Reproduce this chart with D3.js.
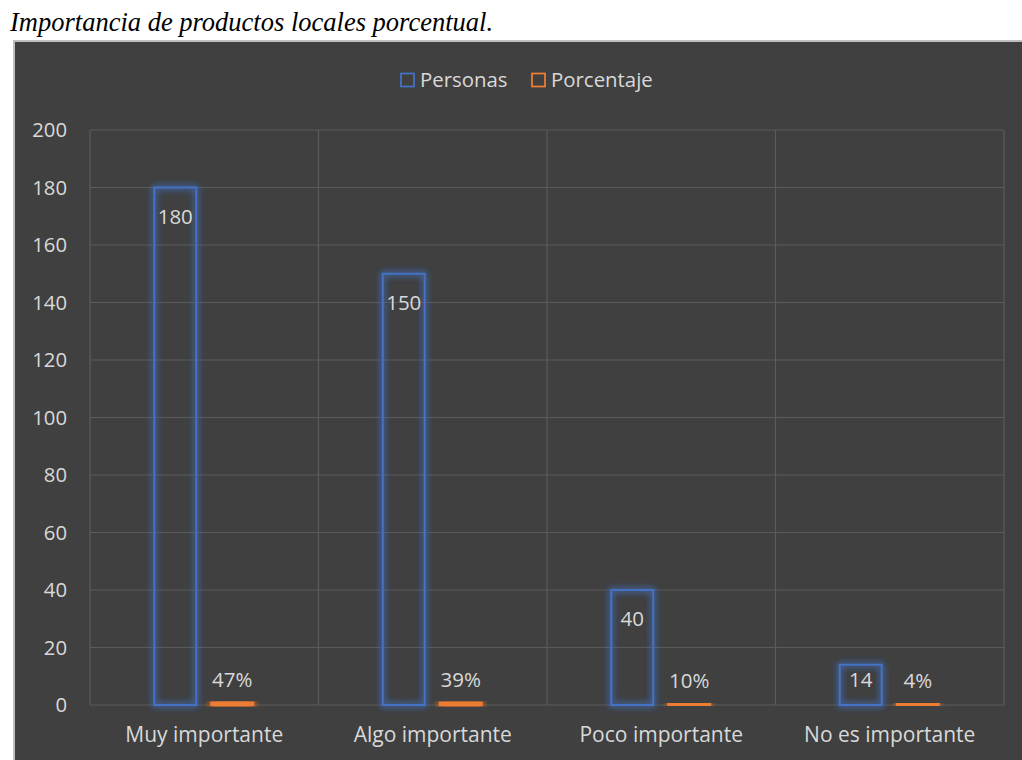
<!DOCTYPE html>
<html>
<head>
<meta charset="utf-8">
<script src="https://cdn.jsdelivr.net/npm/d3@7"></script>
<style>
  html, body { margin: 0; padding: 0; background: #ffffff; }
  svg { display: block; }
</style>
</head>
<body>
<svg id="chart" width="1022" height="760"></svg>
<script>
// Survey: importance of local products
const categories = ["Muy importante", "Algo importante", "Poco importante", "No es importante"];
const personas = [180, 150, 40, 14];
const porcentaje = [0.47, 0.39, 0.10, 0.04];
const porcentajeLabels = ["47%", "39%", "10%", "4%"];
const yTicks = [0, 20, 40, 60, 80, 100, 120, 140, 160, 180, 200];
const seriesNames = ["Personas", "Porcentaje"];
const seriesColors = ["#4472c4", "#ed7d31"];

const svg = d3.select("#chart");
const font = "'Open Sans', 'Noto Sans', sans-serif";
const textColor = "#d9d9d9";

// Caption above the chart
svg.append("text")
  .attr("x", 10).attr("y", 31)
  .attr("font-family", "'Liberation Serif', 'Times New Roman', serif")
  .attr("font-style", "italic")
  .attr("font-size", 26.5)
  .attr("fill", "#000")
  .text("Importancia de productos locales porcentual.");

// Chart frame
svg.append("rect")
  .attr("x", 14).attr("y", 41).attr("width", 1022 - 14).attr("height", 760 - 41)
  .attr("fill", "#404040");
svg.append("path")
  .attr("d", "M14,760 V41 H1022")
  .attr("fill", "none").attr("stroke", "#bfbfbf").attr("stroke-width", 2);

// Glow filters
const defs = svg.append("defs");
seriesColors.forEach((c, i) => {
  const f = defs.append("filter").attr("id", "glow" + i)
    .attr("x", "-50%").attr("y", "-50%").attr("width", "200%").attr("height", "200%");
  f.append("feGaussianBlur").attr("in", "SourceGraphic").attr("stdDeviation", 3.5).attr("result", "b");
  const m = f.append("feMerge");
  m.append("feMergeNode").attr("in", "b");
  m.append("feMergeNode").attr("in", "b");
  m.append("feMergeNode").attr("in", "SourceGraphic");
});

const plotLeft = 90, plotRight = 1004, plotTop = 130, plotBottom = 705;

const x = d3.scaleBand().domain(categories).range([plotLeft, plotRight]).padding(0);
const y = d3.scaleLinear().domain([0, 200]).range([plotBottom, plotTop]);

// Horizontal gridlines
svg.append("g").selectAll("line").data(yTicks).join("line")
  .attr("x1", plotLeft).attr("x2", plotRight)
  .attr("y1", d => y(d)).attr("y2", d => y(d))
  .attr("stroke", "#5b5b5b").attr("stroke-width", 1.2);

// Vertical gridlines at category boundaries
const bounds = categories.map(c => x(c)).concat([plotRight]);
svg.append("g").selectAll("line").data(bounds).join("line")
  .attr("x1", d => d).attr("x2", d => d)
  .attr("y1", plotTop).attr("y2", plotBottom)
  .attr("stroke", "#5b5b5b").attr("stroke-width", 1.2);

// Y axis labels
const yAxis = svg.append("g")
  .attr("transform", `translate(${plotLeft - 23},0)`)
  .call(d3.axisLeft(y).tickValues(yTicks).tickSize(0).tickPadding(0));
yAxis.select(".domain").remove();
yAxis.selectAll("text")
  .attr("font-family", font).attr("font-size", 20.3).attr("fill", textColor);

// X axis labels
const xAxis = svg.append("g")
  .attr("transform", `translate(0,${plotBottom})`)
  .call(d3.axisBottom(x).tickSize(0).tickPadding(22));
xAxis.select(".domain").remove();
xAxis.selectAll("text")
  .attr("font-family", font).attr("font-size", 21).attr("fill", textColor);

const barW = 42;
const offsets = [-29, 28];

// Personas bars
svg.append("g").selectAll("rect").data(personas).join("rect")
  .attr("x", (d, i) => x(categories[i]) + x.bandwidth() / 2 + offsets[0] - barW / 2)
  .attr("y", d => y(d))
  .attr("width", barW)
  .attr("height", d => y(0) - y(d))
  .attr("fill", "none")
  .attr("stroke", seriesColors[0]).attr("stroke-width", 2)
  .attr("filter", "url(#glow0)");

// Porcentaje bars
svg.append("g").selectAll("rect").data(porcentaje).join("rect")
  .attr("x", (d, i) => x(categories[i]) + x.bandwidth() / 2 + offsets[1] - barW / 2)
  .attr("y", d => y(d) - 1)
  .attr("width", barW)
  .attr("height", d => y(0) - y(d) + 1)
  .attr("fill", seriesColors[1])
  .attr("stroke", seriesColors[1]).attr("stroke-width", 2)
  .attr("filter", "url(#glow1)");

// Personas value labels (inside the top of the bar, kept within short bars)
svg.append("g").selectAll("text").data(personas).join("text")
  .attr("x", (d, i) => x(categories[i]) + x.bandwidth() / 2 + offsets[0])
  .attr("y", d => Math.min(y(d) + 36, y(0) - 18))
  .attr("text-anchor", "middle")
  .attr("font-family", font).attr("font-size", 20.5).attr("fill", textColor)
  .text(d => d);

// Porcentaje value labels (above the bar)
svg.append("g").selectAll("text").data(porcentaje).join("text")
  .attr("x", (d, i) => x(categories[i]) + x.bandwidth() / 2 + offsets[1])
  .attr("y", d => y(d) - 17)
  .attr("text-anchor", "middle")
  .attr("font-family", font).attr("font-size", 20.5).attr("fill", textColor)
  .text((d, i) => porcentajeLabels[i]);

// Legend
const legendItems = [{ x: 401, name: seriesNames[0], color: seriesColors[0] },
                     { x: 532, name: seriesNames[1], color: seriesColors[1] }];
const lg = svg.append("g").selectAll("g").data(legendItems).join("g");
lg.append("rect")
  .attr("x", d => d.x).attr("y", 73.5).attr("width", 13).attr("height", 13)
  .attr("fill", "none").attr("stroke", d => d.color).attr("stroke-width", 1.8);
lg.append("text")
  .attr("x", d => d.x + 19).attr("y", 87)
  .attr("font-family", font).attr("font-size", 20.4).attr("fill", textColor)
  .text(d => d.name);
</script>
</body>
</html>
